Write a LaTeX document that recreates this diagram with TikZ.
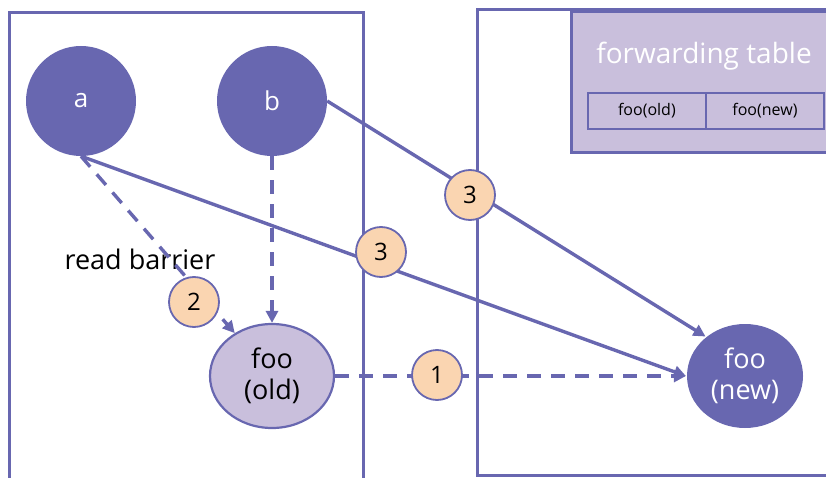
\documentclass[tikz,border=0pt]{standalone}
\usepackage{fontspec}
\setmainfont{Open Sans}
\usetikzlibrary{arrows.meta, shapes.geometric}
\definecolor{gcblue}{HTML}{6867B0}
\definecolor{gclilac}{HTML}{C9BFDC}
\definecolor{gcpeach}{HTML}{FAD5B1}

\begin{document}
\begin{tikzpicture}[
    x=1pt, y=-1pt,
    obj/.style={
      circle, fill=gcblue, minimum size=110pt, inner sep=0pt,
      text=white, font=\fontsize{26}{28}\selectfont
    },
    heapobj/.style={
      ellipse, line width=2.2pt, inner sep=0pt, align=center,
      minimum width=124pt, minimum height=104pt,
      font=\fontsize{27}{31}\selectfont
    },
    badge/.style={
      circle, draw=gcblue, line width=1.8pt, fill=gcpeach,
      minimum size=50pt, inner sep=0pt, font=\fontsize{24}{26}\selectfont
    },
    cell/.style={
      draw=gcblue, line width=1.8pt, minimum width=118pt, minimum height=36pt,
      inner sep=0pt, font=\fontsize{16}{18}\selectfont
    },
    region/.style={draw=gcblue, line width=3pt},
    arr/.style={-{Triangle[length=12pt, width=12pt]}, line width=3.4pt, gcblue},
    dasharr/.style={arr, dash pattern=on 14pt off 10pt},
  ]
    \useasboundingbox (0,0) rectangle (826,478);
    \clip (0,0) rectangle (826,478);

    % heap regions
    \draw[region] (9,13) rectangle (363,495);
    \draw[region] (477,10) rectangle (845,475);
    \draw[region, fill=gclilac] (571,12) rectangle (845,153);

    % forwarding table
    \node[text=white, font=\fontsize{28}{30}\selectfont] (ftitle) at (704,56) {forwarding table};
    \node[cell, anchor=north west] (fold) at (587,92) {foo(old)};
    \node[cell, anchor=north west] (fnew) at (705,92) {foo(new)};

    % objects
    \node[obj] (a) at (81,101) {a};
    \node[obj] (b) at (272,101) {b};
    \node[heapobj, draw=gcblue, fill=gclilac] (old) at (272,376) {foo\\(old)};
    \node[heapobj, fill=gcblue, text=white, minimum width=116pt] (new) at (745,376) {foo\\(new)};

    \node[font=\fontsize{27}{29}\selectfont] (rb) at (140,259) {read barrier};

    % references
    \draw[dasharr] (a.south) -- (old);
    \draw[dasharr] (b) -- (old);
    \draw[dasharr] (old) -- (new);
    \draw[arr] (a.south) -- (new.west);
    \draw[arr] (b.east) -- (new.135);

    % steps
    \node[badge] (s1) at (437,375) {1};
    \node[badge] (s2) at (194,302) {2};
    \node[badge] (s3a) at (381,252) {3};
    \node[badge] (s3b) at (470,195) {3};
  \end{tikzpicture}
\end{document}
